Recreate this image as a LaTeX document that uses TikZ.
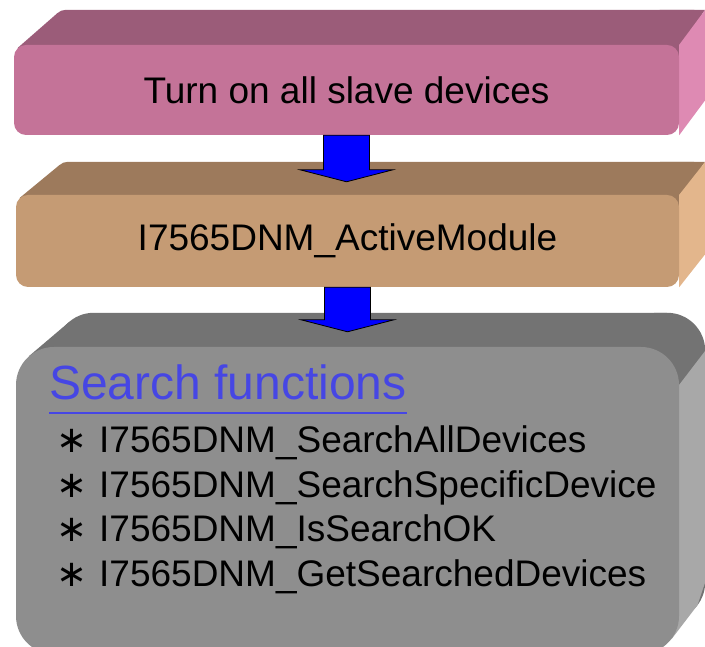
\documentclass[tikz,border=0pt]{standalone}
\usepackage{fontspec}
\setmainfont{Liberation Sans}
\newfontfamily\symfont{DejaVu Sans}
\usetikzlibrary{calc,backgrounds}
\definecolor{pinkfront}{HTML}{C47398}
\definecolor{pinktop}{HTML}{9B5C79}
\definecolor{pinkside}{HTML}{DE8AB3}
\definecolor{tanfront}{HTML}{C59B74}
\definecolor{tantop}{HTML}{9D7A5C}
\definecolor{tanside}{HTML}{E3B68C}
\definecolor{grayfront}{HTML}{8E8E8E}
\definecolor{graytop}{HTML}{737373}
\definecolor{grayside}{HTML}{A8A8A8}
\definecolor{headblue}{HTML}{4646E4}

\begin{document}
\begin{tikzpicture}[x=1pt, y=1pt,
    slab/.style={rectangle, rounded corners=12pt, inner sep=0pt, minimum width=663pt, font=\fontsize{37}{44}\selectfont},
    fnitem/.style={anchor=base west, inner sep=0pt, font=\fontsize{37}{44}\selectfont},
    blockarrow/.style={fill=blue, draw=black, line width=0.8pt, line join=miter,
        to path={let \p1=(\tikztostart), \p2=(\tikztotarget) in
            (\x1-23pt,\y1) -- (\x1-23pt,\y2+12pt) -- (\x1-46.5pt,\y2+12pt) -- (\x1,\y2)
            -- (\x1+46.5pt,\y2+12pt) -- (\x1+23pt,\y2+12pt) -- (\x1+23pt,\y1) -- cycle}}]
    \useasboundingbox (0,0) rectangle (705,647);

    % Front faces of the three slabs
    \node[slab, fill=pinkfront, minimum width=665pt, minimum height=90pt] (turnon) at (346.5,557) {Turn on all slave devices};
    \node[slab, fill=tanfront, minimum height=92pt] (active) at (347.5,406) {I7565DNM\_ActiveModule};
    \node[slab, fill=grayfront, rounded corners=38pt, minimum height=307pt] (search) at (347.5,146.5) {};

    % Top and side faces
    \begin{scope}[on background layer]
        \fill[pinktop, rounded corners=12pt] ($(turnon.south west)+(40,35)$) rectangle ($(turnon.north east)+(26,35)$);
        \fill[pinktop] ($(turnon.north west)+(4,-3)$) -- ++(40,35) -- ($(turnon.north east)+(26,35)$) -- (turnon.north east) -- cycle;
        \fill[pinkside] (turnon.north east) -- ++(26,35) -- ($(turnon.south east)+(26,35)$) -- (turnon.south east) -- cycle;

        \fill[tantop, rounded corners=12pt] ($(active.south west)+(40,33)$) rectangle ($(active.north east)+(26,33)$);
        \fill[tantop] ($(active.north west)+(4,-3)$) -- ++(40,33) -- ($(active.north east)+(26,33)$) -- (active.north east) -- cycle;
        \fill[tanside] (active.north east) -- ++(26,33) -- ($(active.south east)+(26,33)$) -- (active.south east) -- cycle;

        \fill[graytop, rounded corners=38pt] ($(search.south west)+(40,34)$) rectangle ($(search.north east)+(26,34)$);
        \fill[graytop] ($(search.north west)+(13,-9.5)$) -- ++(40,34) -- ($(search.north east)+(-12,34)$) -- ($(search.north east)+(-38,0)$) -- cycle;
        \fill[grayside] ($(search.north east)+(0,-38)$) -- ++(26,34) -- ($(search.south east)+(26,72)$) -- ($(search.south east)+(18.2,48.9)$) -- ($(search.south east)+(-7.8,14.9)$) -- cycle;
    \end{scope}

    % Block arrows
    \coordinate (tip1) at ([yshift=13pt]active.north);
    \coordinate (tip2) at ([yshift=15pt]search.north);
    \draw[blockarrow] (turnon.south) to (tip1);
    \draw[blockarrow] (active.south) to (tip2);

    % Search functions list
    \node[anchor=base west, inner sep=0pt, text=headblue, font=\fontsize{48}{56}\selectfont] (heading) at (49,247) {Search functions};
    \draw[headblue, line width=1.5pt] ([yshift=-13pt]heading.base west) -- ([yshift=-13pt]heading.base east);
    \foreach \fn [count=\i] in {SearchAllDevices, SearchSpecificDevice, IsSearchOK, GetSearchedDevices}
        \node[fnitem] (fn\i) at (56, 238.5-44.5*\i) {\makebox[43pt][l]{\symfont ∗}I7565DNM\_\fn};
\end{tikzpicture}
\end{document}
